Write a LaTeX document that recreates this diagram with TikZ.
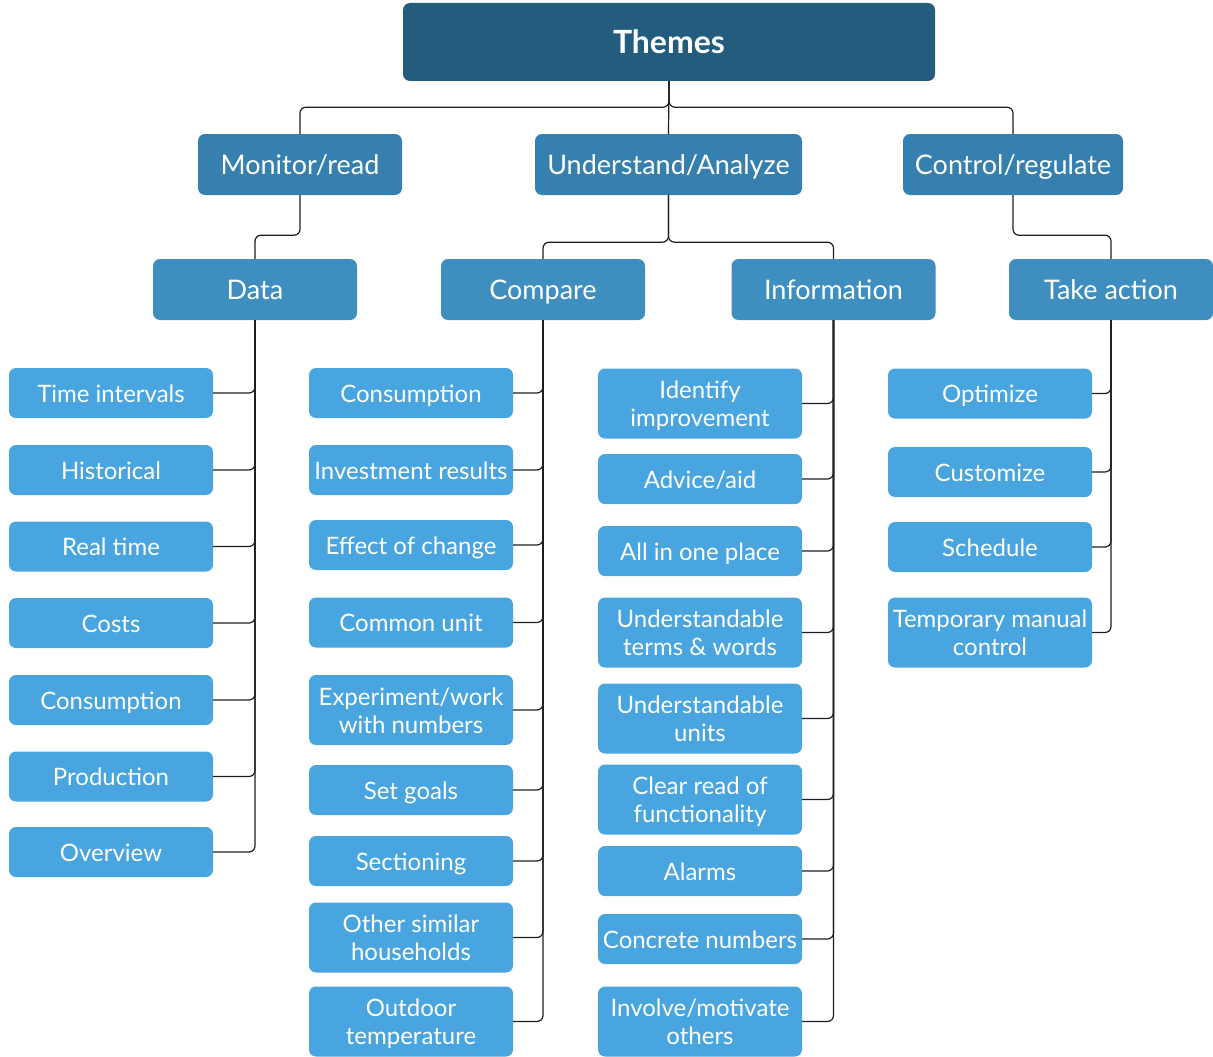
\documentclass[tikz,border=0pt]{standalone}
\usepackage{fontspec}
\setmainfont{Lato}
\definecolor{headC}{HTML}{245C7E}
\definecolor{lvlone}{HTML}{3680AF}
\definecolor{lvltwo}{HTML}{3E8EC0}
\definecolor{leafC}{HTML}{48A5DF}
\definecolor{linkC}{HTML}{1E1E1E}
\begin{document}
\begin{tikzpicture}[x=1pt,y=-1pt,
  box/.style={rounded corners=7pt, text=white, align=center, inner sep=0pt},
  headbox/.style={box, fill=headC, minimum width=532pt, minimum height=78pt,
    font=\fontsize{32}{36}\selectfont\bfseries, text height=27pt, text depth=3pt},
  lvlbox/.style={box, fill=lvlone, minimum height=61pt, font=\fontsize{27}{30}\selectfont,
    text height=22pt, text depth=3pt},
  subbox/.style={box, fill=lvltwo, minimum width=204pt, minimum height=61pt,
    font=\fontsize{27}{30}\selectfont, text height=22pt, text depth=3pt},
  leaf/.style={box, fill=leafC, minimum width=204pt, minimum height=50pt,
    font=\fontsize{24}{28}\selectfont, text height=20pt, text depth=2pt},
  tall/.style={minimum height=70pt, text height=48pt},
  link/.style={draw=linkC, line width=1.2pt, rounded corners=6pt}]
\useasboundingbox (0,0) rectangle (1213,1057);

% root and first level
\node[headbox] (themes) at (669,42) {Themes};
\node[lvlbox, minimum width=204pt] (mon) at (300,164.5) {Monitor/read};
\node[lvlbox, minimum width=267pt] (und) at (668.5,164.5) {Understand/Analyze};
\node[lvlbox, minimum width=220pt] (ctl) at (1013,164.5) {Control/regulate};

% second level
\node[subbox] (data) at (255,289.5) {Data};
\node[subbox] (cmp)  at (543,289.5) {Compare};
\node[subbox] (info) at (833.5,289.5) {Information};
\node[subbox] (act)  at (1111,289.5) {Take action};

% Data leaves
\node[leaf] (d1) at (111,393) {Time intervals};
\node[leaf] (d2) at (111,470) {Historical};
\node[leaf] (d3) at (111,546.5) {Real time};
\node[leaf] (d4) at (111,623) {Costs};
\node[leaf] (d5) at (111,700) {Consumption};
\node[leaf] (d6) at (111,776.5) {Production};
\node[leaf] (d7) at (111,852) {Overview};

% Compare leaves
\node[leaf] (c1) at (411,393) {Consumption};
\node[leaf] (c2) at (411,470) {Investment results};
\node[leaf] (c3) at (411,545) {Effect of change};
\node[leaf] (c4) at (411,622.5) {Common unit};
\node[leaf, tall] (c5) at (411,710) {Experiment/work\\with numbers};
\node[leaf] (c6) at (411,790) {Set goals};
\node[leaf] (c7) at (411,861) {Sectioning};
\node[leaf, tall] (c8) at (411,937.5) {Other similar\\households};
\node[leaf, tall] (c9) at (411,1021.5) {Outdoor\\temperature};

% Information leaves
\node[leaf, tall] (i1) at (700,403.5) {Identify\\improvement};
\node[leaf] (i2) at (700,479) {Advice/aid};
\node[leaf] (i3) at (700,551) {All in one place};
\node[leaf, tall] (i4) at (700,632.5) {Understandable\\terms \& words};
\node[leaf, tall] (i5) at (700,718.5) {Understandable\\units};
\node[leaf, tall] (i6) at (700,799.5) {Clear read of\\functionality};
\node[leaf] (i7) at (700,871) {Alarms};
\node[leaf] (i8) at (700,939) {Concrete numbers};
\node[leaf, tall] (i9) at (700,1021.5) {Involve/motivate\\others};

% Take action leaves
\node[leaf] (a1) at (990,393.5) {Optimize};
\node[leaf] (a2) at (990,472) {Customize};
\node[leaf] (a3) at (990,547) {Schedule};
\node[leaf, tall] (a4) at (990,632.5) {Temporary manual\\control};

% root to first level
\draw[link] (themes.south) -- (und.north);
\draw[link] (themes.south) -- ++(0,-26pt) -| (mon.north);
\draw[link] (themes.south) -- ++(0,-26pt) -| (ctl.north);

% first level to second level
\draw[link] (mon.south) -- ++(0,-40pt) -| (data.north);
\draw[link] (und.south) -- ++(0,-47pt) -| (cmp.north);
\draw[link] (und.south) -- ++(0,-47pt) -| (info.north);
\draw[link] (ctl.south) -- ++(0,-40pt) -| (act.north);

% second level to leaves
\foreach \n in {d1,d2,d3,d4,d5,d6,d7}
  \draw[link] (data.south) |- (\n.east);
\foreach \n in {c1,c2,c3,c4,c5,c6,c7,c8,c9}
  \draw[link] (cmp.south) |- (\n.east);
\foreach \n in {i1,i2,i3,i4,i5,i6,i7,i8,i9}
  \draw[link] (info.south) |- (\n.east);
\foreach \n in {a1,a2,a3,a4}
  \draw[link] (act.south) |- (\n.east);
\end{tikzpicture}
\end{document}
